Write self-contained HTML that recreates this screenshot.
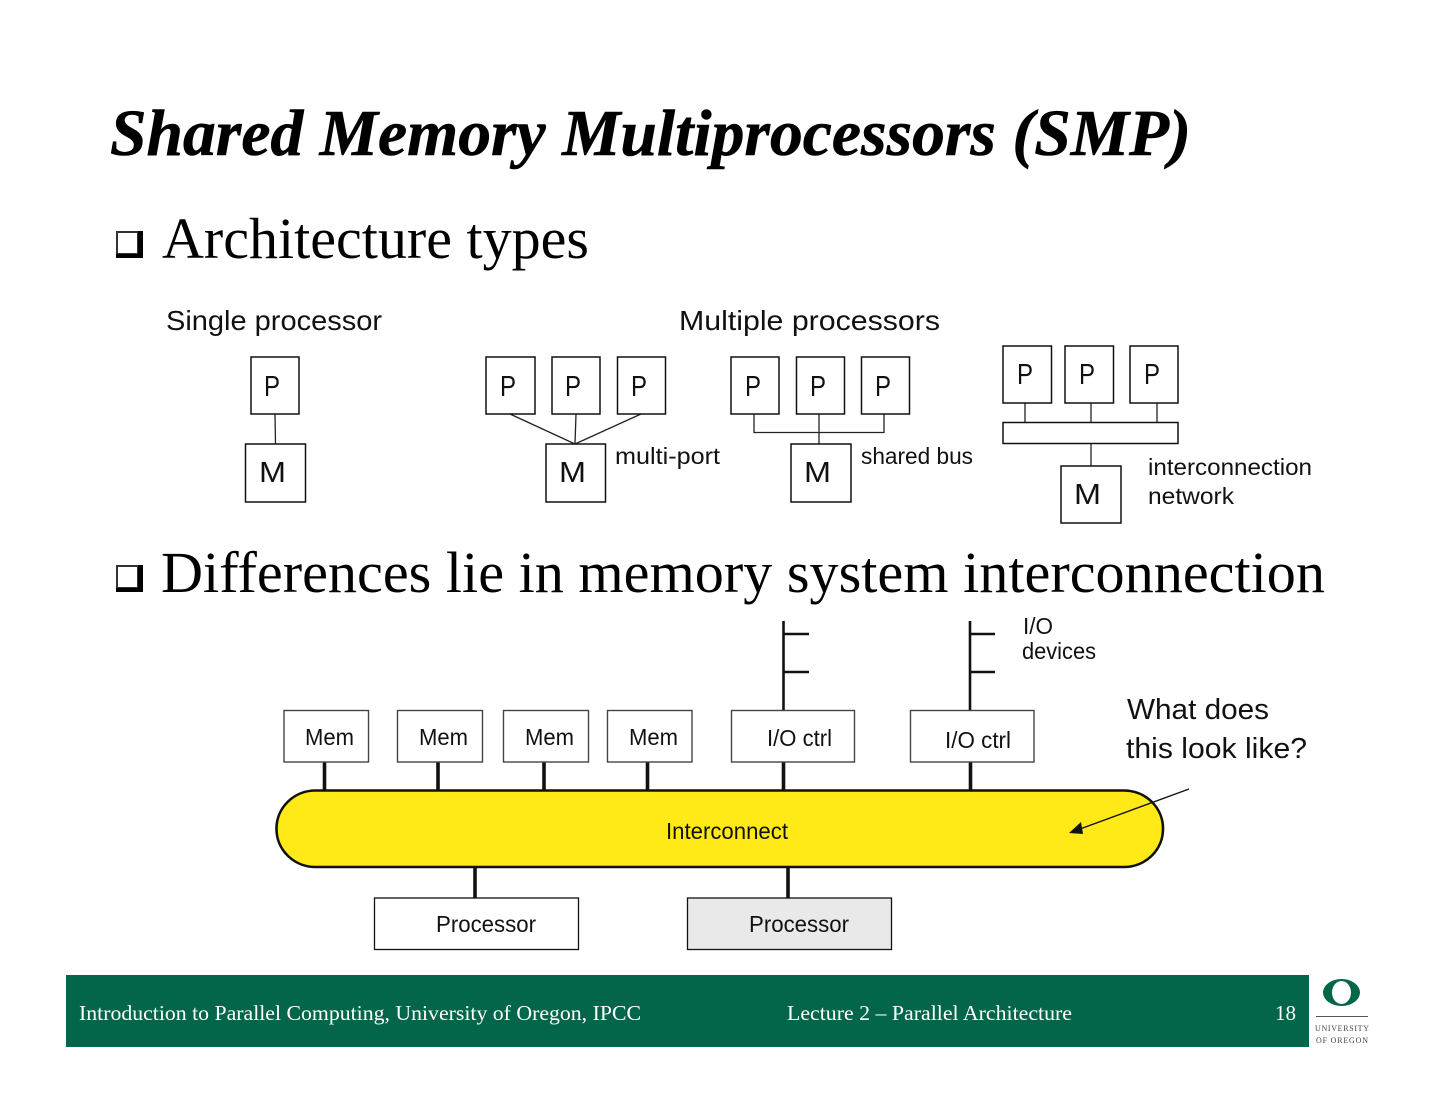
<!DOCTYPE html>
<html><head><meta charset="utf-8"><style>
html,body{margin:0;padding:0;background:#fff;width:1440px;height:1113px;overflow:hidden}
svg{display:block}
.c{font-family:"Liberation Sans",sans-serif;fill:#111}
.s{font-family:"Liberation Serif",serif}
.b{fill:#fff;stroke:#111;stroke-width:1.5}
.a{font-family:"Liberation Sans",sans-serif;fill:#111;font-size:23.500px}
.f{font-family:"Liberation Serif",serif;fill:#fff;font-size:21px}
.m{fill:#fff;stroke:#444;stroke-width:1.4}
</style></head><body>
<svg width="1440" height="1113" viewBox="0 0 1440 1113" xmlns="http://www.w3.org/2000/svg">
<text class="s" x="110" y="155" font-size="66" font-weight="bold" font-style="italic" fill="#000" stroke="#000" stroke-width="0.600" textLength="1081" lengthAdjust="spacingAndGlyphs">Shared Memory Multiprocessors (SMP)</text>

<rect x="117" y="232" width="21" height="22" fill="#fff" stroke="#333" stroke-width="2"/>
<path d="M138 231h5v27h-27v-4h22z" fill="#000"/>
<text class="s" x="162" y="258" font-size="58" fill="#000" textLength="427" lengthAdjust="spacingAndGlyphs">Architecture types</text>
<rect x="117" y="566" width="21" height="22" fill="#fff" stroke="#333" stroke-width="2"/>
<path d="M138 565h5v27h-27v-4h22z" fill="#000"/>
<text class="s" x="161" y="592" font-size="58" fill="#000" textLength="1164" lengthAdjust="spacingAndGlyphs">Differences lie in memory system interconnection</text>

<text class="c" x="166" y="330" font-size="28" textLength="216" lengthAdjust="spacingAndGlyphs">Single processor</text>
<text class="c" x="679" y="330" font-size="28" textLength="261" lengthAdjust="spacingAndGlyphs">Multiple processors</text>

<!-- connectors -->
<g stroke="#222" stroke-width="1.300" fill="none">
<path d="M275 414L275.500 444"/>
<path d="M510 414L575 444M576 414L575 444M641 414L575 444"/>
<path d="M754 414V432.500H884V414M819 414V444"/>
<path d="M1025 403V422M1091 403V422M1157 403V422M1091 443V466"/>
</g>

<!-- single -->
<rect class="b" x="251" y="357" width="48" height="57"/>
<rect class="b" x="245.500" y="444" width="60" height="58"/>
<!-- multi-port -->
<rect class="b" x="486" y="357" width="49" height="57"/>
<rect class="b" x="552" y="357" width="48" height="57"/>
<rect class="b" x="617.500" y="357" width="48" height="57"/>
<rect class="b" x="546" y="444" width="59.500" height="58"/>
<!-- shared bus -->
<rect class="b" x="731" y="357" width="48" height="57"/>
<rect class="b" x="796.500" y="357" width="48" height="57"/>
<rect class="b" x="861.500" y="357" width="48" height="57"/>
<rect class="b" x="791" y="444" width="60" height="58"/>
<!-- network -->
<rect class="b" x="1003" y="346" width="48.500" height="57"/>
<rect class="b" x="1065" y="346" width="48.500" height="57"/>
<rect class="b" x="1130" y="346" width="48" height="57"/>
<rect class="b" x="1003" y="422.500" width="175" height="21"/>
<rect class="b" x="1061" y="466" width="60" height="57"/>

<g class="c" font-size="29">
<text x="264" y="396" textLength="16" lengthAdjust="spacingAndGlyphs">P</text><text x="500" y="396" textLength="16" lengthAdjust="spacingAndGlyphs">P</text><text x="565" y="396" textLength="16" lengthAdjust="spacingAndGlyphs">P</text><text x="631" y="396" textLength="16" lengthAdjust="spacingAndGlyphs">P</text>
<text x="745" y="396" textLength="16" lengthAdjust="spacingAndGlyphs">P</text><text x="810" y="396" textLength="16" lengthAdjust="spacingAndGlyphs">P</text><text x="875" y="396" textLength="16" lengthAdjust="spacingAndGlyphs">P</text>
<text x="1017" y="384" textLength="16" lengthAdjust="spacingAndGlyphs">P</text><text x="1079" y="384" textLength="16" lengthAdjust="spacingAndGlyphs">P</text><text x="1144" y="384" textLength="16" lengthAdjust="spacingAndGlyphs">P</text>
<text x="259" y="482" textLength="27" lengthAdjust="spacingAndGlyphs">M</text><text x="559" y="482" textLength="27" lengthAdjust="spacingAndGlyphs">M</text><text x="804" y="482" textLength="27" lengthAdjust="spacingAndGlyphs">M</text><text x="1074" y="504" textLength="27" lengthAdjust="spacingAndGlyphs">M</text>
</g>
<text class="c" x="615" y="464" font-size="23" textLength="105" lengthAdjust="spacingAndGlyphs">multi-port</text>
<text class="c" x="861" y="464" font-size="23" textLength="112" lengthAdjust="spacingAndGlyphs">shared bus</text>
<text class="c" x="1148" y="475" font-size="23" textLength="164" lengthAdjust="spacingAndGlyphs">interconnection</text>
<text class="c" x="1148" y="504" font-size="23" textLength="86" lengthAdjust="spacingAndGlyphs">network</text>

<!-- I/O buses -->
<g stroke="#111" fill="none" stroke-width="2.600">
<path d="M783.500 621V710M783 634H809M783 672H809"/>
<path d="M970 621V710M970 634H995M970 672H995"/>
</g>
<!-- stubs -->
<g stroke="#111" stroke-width="3.600" fill="none">
<path d="M324.500 762V790M438 762V790M544 762V790M647.500 762V790M783.500 762V790M970.500 762V790M475 867V898M788 867V898"/>
</g>

<rect class="m" x="284" y="710.500" width="84.500" height="51.500"/>
<rect class="m" x="397.500" y="710.500" width="85" height="51.500"/>
<rect class="m" x="503.500" y="710.500" width="85" height="51.500"/>
<rect class="m" x="607.500" y="710.500" width="84.500" height="51.500"/>
<rect class="m" x="731.500" y="710.500" width="123" height="51.500"/>
<rect class="m" x="910.500" y="710.500" width="123.500" height="51.500"/>

<rect x="276.500" y="790.500" width="886.500" height="76.500" rx="39" ry="38" fill="#ffe916" stroke="#111" stroke-width="2.600"/>

<rect x="374.500" y="898" width="204" height="51.500" fill="#fff" stroke="#111" stroke-width="1.300"/>
<rect x="687.500" y="898" width="204" height="51.500" fill="#e9e9e9" stroke="#111" stroke-width="1.300"/>

<text class="a" x="305" y="745" textLength="49" lengthAdjust="spacingAndGlyphs">Mem</text>
<text class="a" x="419" y="745" textLength="49" lengthAdjust="spacingAndGlyphs">Mem</text>
<text class="a" x="525" y="745" textLength="49" lengthAdjust="spacingAndGlyphs">Mem</text>
<text class="a" x="629" y="745" textLength="49" lengthAdjust="spacingAndGlyphs">Mem</text>
<text class="a" x="767" y="746" textLength="65" lengthAdjust="spacingAndGlyphs">I/O ctrl</text>
<text class="a" x="945" y="748" textLength="66" lengthAdjust="spacingAndGlyphs">I/O ctrl</text>
<text class="a" x="666" y="839" textLength="122" lengthAdjust="spacingAndGlyphs">Interconnect</text>
<text class="a" x="436" y="932" textLength="100" lengthAdjust="spacingAndGlyphs">Processor</text>
<text class="a" x="749" y="932" textLength="100" lengthAdjust="spacingAndGlyphs">Processor</text>
<text class="a" x="1023" y="634" textLength="30" lengthAdjust="spacingAndGlyphs">I/O</text>
<text class="a" x="1022" y="659" textLength="74" lengthAdjust="spacingAndGlyphs">devices</text>

<text class="c" x="1127" y="719" font-size="29" textLength="142" lengthAdjust="spacingAndGlyphs">What does</text>
<text class="c" x="1126" y="758" font-size="29" textLength="181" lengthAdjust="spacingAndGlyphs">this look like?</text>

<path d="M1189 789L1080 829" stroke="#111" stroke-width="1.400" fill="none"/>
<path d="M1069 833L1081 822L1083 834Z" fill="#111"/>

<!-- footer -->
<rect x="66" y="975" width="1243" height="72" fill="#03664a"/>
<text class="f" x="79" y="1020" textLength="562" lengthAdjust="spacingAndGlyphs">Introduction to Parallel Computing, University of Oregon, IPCC</text>
<text class="f" x="787" y="1020" textLength="285" lengthAdjust="spacingAndGlyphs">Lecture 2 – Parallel Architecture</text>
<text class="f" x="1275" y="1020" textLength="21" lengthAdjust="spacingAndGlyphs">18</text>

<path fill-rule="evenodd" fill="#03664a" d="M1323 992.500a18.500 13.500 0 1 0 37 0a18.500 13.500 0 1 0 -37 0ZM1332 992.500a9.500 11.500 0 1 1 19 0a9.500 11.500 0 1 1 -19 0Z"/>
<rect x="1316" y="1016" width="52" height="1" fill="#555"/>
<text x="1315" y="1031" font-family="Liberation Serif,serif" font-size="8" fill="#444" textLength="54" lengthAdjust="spacing">UNIVERSITY</text>
<text x="1316" y="1043" font-family="Liberation Serif,serif" font-size="8" fill="#444" textLength="52" lengthAdjust="spacing">OF OREGON</text>
</svg>
</body></html>
